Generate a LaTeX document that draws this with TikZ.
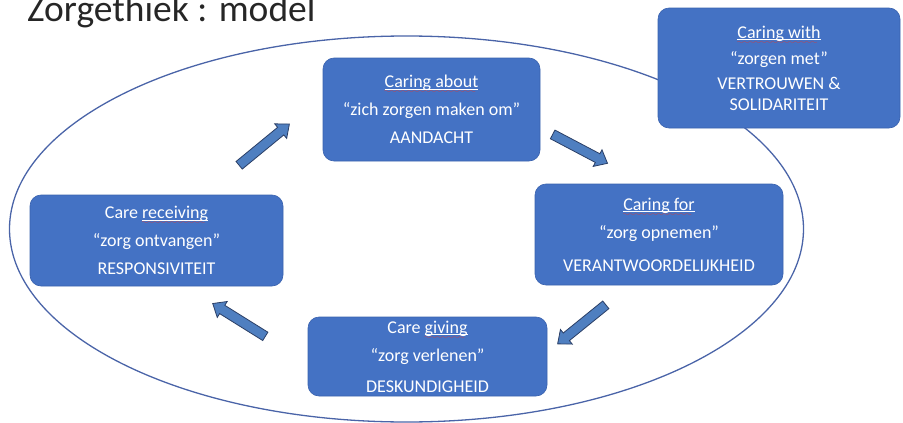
\documentclass[tikz,border=0pt]{standalone}
\usepackage{fontspec}
\setmainfont{Carlito}
\usepackage{xcolor}
\usetikzlibrary{shapes.geometric, shapes.arrows}

\definecolor{boxblue}{HTML}{4472C4}
\definecolor{boxedge}{HTML}{3A62AE}
\definecolor{ringblue}{HTML}{4A64A8}
\definecolor{arrowblue}{HTML}{4F7FC0}
\definecolor{arrowedge}{HTML}{2B3F66}
\definecolor{spellred}{HTML}{D63C3C}

% underlined word with a red wavy mark below it
\font\spellfont=lasy8
\newsavebox\spellbox
\newcommand\spell[1]{\sbox\spellbox{#1}%
  \rlap{\rule[-2pt]{\wd\spellbox}{0.8pt}}%
  \rlap{\color{spellred}\leaders\hbox{\raisebox{-6pt}{\spellfont\char58}}\hskip\wd\spellbox}%
  \usebox\spellbox}

\begin{document}
\begin{tikzpicture}[
        x = 1pt, y = -1pt, % pixel units, y downwards
        careBox/.style = {rectangle, rounded corners = 11pt, fill = boxblue,
            draw = boxedge, line width = 0.6pt, text = white, align = center,
            inner sep = 0pt, font = \fontsize{18}{28}\selectfont},
        blockArrow/.style = {single arrow, fill = arrowblue, draw = arrowedge,
            line width = 0.8pt, inner xsep = 0pt, inner ysep = 4.5pt,
            single arrow head extend = 4.5pt, single arrow tip angle = 80},
    ]
        \useasboundingbox (0,0) rectangle (903,423);

        % Title
        \node[anchor = base west, inner sep = 0pt, text = black!85,
            font = \fontsize{37.5}{40}\selectfont] (title) at (27,21) {Zorgethiek : model};

        % Draw the ring
        \node[ellipse, draw = ringblue, line width = 1.3pt, inner sep = 0pt,
            minimum width = 794pt, minimum height = 386pt] (ring) at (406.5,229) {};

        % Draw the boxes
        \foreach \pos/\w/\h/\i/\txt in {
            (431.5,109.5)/217/103/about/{\spell{Caring about}\\“zich zorgen maken om”\\AANDACHT},
            (659,234.5)/248/101/for/{\spell{Caring for}\\“zorg opnemen”\\[5pt]VERANTWOORDELIJKHEID},
            (427.5,356.5)/239/79/giving/{Care \spell{giving}\\“zorg verlenen”\\[3pt]DESKUNDIGHEID},
            (156.5,240.5)/253/91/receiving/{Care \spell{receiving}\\“zorg ontvangen”\\RESPONSIVITEIT}} {
            \node[careBox, minimum width = \w pt, minimum height = \h pt] (\i) at \pos {\txt};
        }
        \node[careBox, minimum width = 242pt, minimum height = 120pt,
            font = \fontsize{18}{21}\selectfont] (with) at (779,68)
            {\spell{Caring with}\\[5pt]“zorgen met”\\[4pt]VERTROUWEN \&\\SOLIDARITEIT};

        % Draw the block arrows
        \foreach \pos/\len/\ang/\i in {
            (262,146.5)/65/39.4/toAbout,
            (577.5,147.5)/62/-27.8/toFor,
            (584,322.5)/62/219/toGiving,
            (241.5,321.5)/62/148/toReceiving} {
            \node[blockArrow, minimum height = \len pt, rotate = \ang] (\i) at \pos {};
        }
    \end{tikzpicture}
\end{document}
